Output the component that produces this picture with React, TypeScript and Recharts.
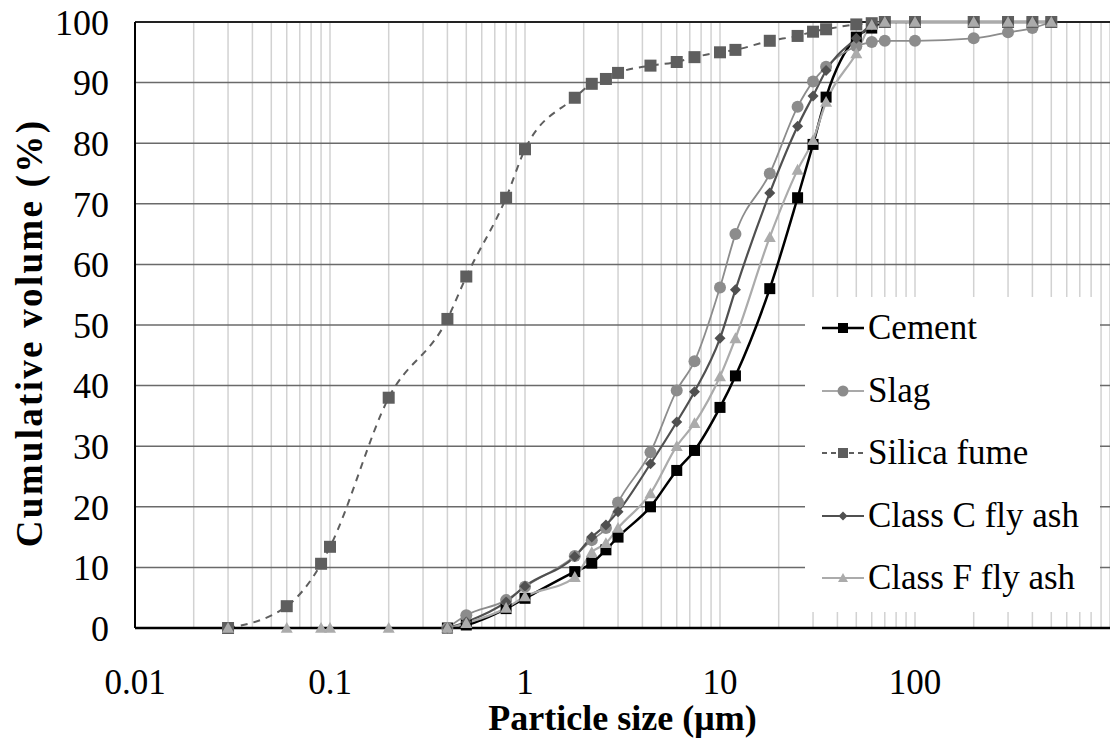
import React from "react";
import {
  LineChart,
  Line,
  XAxis,
  YAxis,
  ReferenceLine,
  Label,
} from "recharts";

// particle sizes (µm) shared by every series
const sizes = [
  0.03, 0.06, 0.09, 0.1, 0.2, 0.4, 0.5, 0.8, 1, 1.8, 2.2, 2.6, 3, 4.4, 6, 7.4,
  10, 12, 18, 25, 30, 35, 50, 60, 70, 100, 200, 300, 400, 500,
];

const cement = [
  null, null, null, null, null, 0, 0.5, 3.2, 4.9, 9.3, 10.7, 12.9, 15, 20, 26,
  29.3, 36.4, 41.6, 56, 71, 79.8, 87.6, 97.5, 99, 100, 100, 100, 100, 100, 100,
];
const slag = [
  null, null, null, null, null, 0, 2.1, 4.6, 6.8, 11.9, 14.5, 16.5, 20.7, 29,
  39.2, 44, 56.2, 65, 75, 86, 90.2, 92.6, 96, 96.7, 96.9, 96.9, 97.3, 98.3, 99,
  100,
];
const silicaFume = [
  0, 3.6, 10.6, 13.4, 38, 51, 58, 71, 79, 87.5, 89.8, 90.6, 91.6, 92.8, 93.4,
  94.2, 95, 95.4, 96.9, 97.7, 98.4, 98.8, 99.6, 99.8, 100, 100, 100, 100, 100,
  100,
];
const classC = [
  null, null, null, null, null, 0, 1, 4.3, 6.9, 11.8, 15, 17, 19.2, 27.1, 34,
  39, 47.8, 55.8, 71.8, 82.8, 87.8, 92, 97.3, 99.5, 100, 100, 100, 100, 100,
  100,
];
const classF = [
  0, 0, 0, 0, 0, 0, 0.8, 3.3, 5.2, 8.4, 12.5, 14, 16.5, 22.2, 30, 33.8, 41.5,
  47.8, 64.5, 75.6, 80.5, 86.8, 94.8, 99.5, 100, 100, 100, 100, 100, 100,
];

const xTicks = [0.01, 0.1, 1, 10, 100];
const yTicks = [0, 10, 20, 30, 40, 50, 60, 70, 80, 90, 100];
const decades = [0.01, 0.1, 1, 10, 100];
const minorGrid: number[] = [];
decades.forEach((d) => {
  for (let m = 1; m <= 9; m++) if (!(d === 0.01 && m === 1)) minorGrid.push(+(d * m).toPrecision(3));
});
minorGrid.push(1000);

const data = sizes.map((s, i) => ({
  size: s,
  cement: cement[i],
  slag: slag[i],
  silica: silicaFume[i],
  classC: classC[i],
  classF: classF[i],
}));

const FONT = "'Liberation Serif', 'Times New Roman', serif";

const C_CEMENT = "#000000";
const C_SLAG = "#8c8c8c";
const C_SILICA = "#5e5e5e";
const C_CLASSC = "#505050";
const C_CLASSF = "#ababab";

type Shape = "square" | "circle" | "diamond" | "triangle";

function Marker({ cx, cy, shape, color, size }: any) {
  if (cx == null || cy == null) return null;
  const h = size / 2;
  if (shape === "square")
    return <rect x={cx - h} y={cy - h} width={size} height={size} fill={color} />;
  if (shape === "circle") return <circle cx={cx} cy={cy} r={h} fill={color} />;
  if (shape === "diamond")
    return (
      <polygon
        points={`${cx},${cy - h} ${cx + h},${cy} ${cx},${cy + h} ${cx - h},${cy}`}
        fill={color}
      />
    );
  return (
    <polygon
      points={`${cx},${cy - h} ${cx + h},${cy + h * 0.8} ${cx - h},${cy + h * 0.8}`}
      fill={color}
    />
  );
}

const dotFn = (shape: Shape, color: string, size: number) => (props: any) => {
  const { cx, cy, index, value } = props;
  if (value == null || (Array.isArray(value) && value[1] == null))
    return <g key={`d-${shape}-${index}`} />;
  return (
    <g key={`d-${shape}-${index}`}>
      <Marker cx={cx} cy={cy} shape={shape} color={color} size={size} />
    </g>
  );
};

const legendItems = [
  { name: "Cement", color: C_CEMENT, shape: "square" as Shape, dash: undefined, w: 2.5, size: 10 },
  { name: "Slag", color: C_SLAG, shape: "circle" as Shape, dash: undefined, w: 1.5, size: 11 },
  { name: "Silica fume", color: C_SILICA, shape: "square" as Shape, dash: "5 4", w: 2, size: 10 },
  { name: "Class C fly ash", color: C_CLASSC, shape: "diamond" as Shape, dash: undefined, w: 2, size: 9 },
  { name: "Class F fly ash", color: C_CLASSF, shape: "triangle" as Shape, dash: undefined, w: 2, size: 10 },
];

export default function App() {
  return (
    <div style={{ position: "absolute", left: 0, top: 0, width: 1110, height: 742, background: "#fff" }}>
      <LineChart
        width={1110}
        height={742}
        data={data}
        margin={{ top: 22, right: 0, left: 0, bottom: 0 }}
      >
        {minorGrid.map((v) => (
          <ReferenceLine key={`v${v}`} x={v} stroke="#d2d2d2" strokeWidth={1.5} />
        ))}
        {yTicks.slice(1, 10).map((v) => (
          <ReferenceLine key={`h${v}`} y={v} stroke="#6a6a6a" strokeWidth={1.5} />
        ))}
        <ReferenceLine y={100} stroke="#222" strokeWidth={2} />
        <XAxis
          type="number"
          dataKey="size"
          scale="log"
          domain={[0.01, 1000]}
          ticks={xTicks}
          allowDataOverflow
          height={114}
          tickLine={false}
          tickSize={6}
          tickMargin={35}
          axisLine={{ stroke: "#000", strokeWidth: 2.5 }}
          tick={{ fill: "#000", fontSize: 35, fontFamily: FONT }}
          tickFormatter={(v: number) => String(v)}
        >
          <Label
            content={({ viewBox }: any) => (
              <text
                x={viewBox.x + viewBox.width / 2}
                y={730}
                textAnchor="middle"
                fontFamily={FONT}
                fontWeight="bold"
                fontSize={36}
                fill="#000"
              >
                Particle size (μm)
              </text>
            )}
          />
        </XAxis>
        <YAxis
          type="number"
          domain={[0, 100]}
          ticks={yTicks}
          width={135}
          tickLine={false}
          tickSize={6}
          tickMargin={20}
          axisLine={{ stroke: "#000", strokeWidth: 2 }}
          tick={{ fill: "#000", fontSize: 36, fontFamily: FONT }}
        >
          <Label
            content={({ viewBox }: any) => {
              const cy = viewBox.y + viewBox.height / 2 + 8;
              return (
                <text
                  x={29}
                  y={cy}
                  transform={`rotate(-90 29 ${cy})`}
                  textAnchor="middle"
                  dominantBaseline="central"
                  fontFamily={FONT}
                  fontWeight="bold"
                  fontSize={37}
                  letterSpacing={2.3}
                  fill="#000"
                >
                  Cumulative volume (%)
                </text>
              );
            }}
          />
        </YAxis>
        <Line
          dataKey="cement"
          type="monotoneX"
          stroke={C_CEMENT}
          strokeWidth={2.5}
          dot={dotFn("square", C_CEMENT, 11)}
          isAnimationActive={false}
        />
        <Line
          dataKey="slag"
          type="monotoneX"
          stroke={C_SLAG}
          strokeWidth={1.8}
          dot={dotFn("circle", C_SLAG, 12)}
          isAnimationActive={false}
        />
        <Line
          dataKey="silica"
          type="monotoneX"
          stroke={C_SILICA}
          strokeWidth={2}
          strokeDasharray="7 6"
          dot={dotFn("square", C_SILICA, 12)}
          isAnimationActive={false}
        />
        <Line
          dataKey="classC"
          type="monotoneX"
          stroke={C_CLASSC}
          strokeWidth={2.2}
          dot={dotFn("diamond", C_CLASSC, 11)}
          isAnimationActive={false}
        />
        <Line
          dataKey="classF"
          type="monotoneX"
          stroke={C_CLASSF}
          strokeWidth={2.2}
          dot={dotFn("triangle", C_CLASSF, 12)}
          isAnimationActive={false}
        />
      </LineChart>
      <div
        style={{
          position: "absolute",
          left: 805,
          top: 297,
          width: 295,
          height: 315,
          background: "#fff",
          boxSizing: "border-box",
          paddingTop: 0,
        }}
      >
        {legendItems.map((it) => (
          <div
            key={it.name}
            style={{ display: "flex", alignItems: "center", height: 62.5, fontFamily: FONT, fontSize: 35, color: "#000", whiteSpace: "nowrap" }}
          >
            <svg width={44} height={20} style={{ marginLeft: 16, marginRight: 3, flexShrink: 0 }}>
              <line x1={1} y1={10} x2={43} y2={10} stroke={it.color} strokeWidth={it.w} strokeDasharray={it.dash} />
              <Marker cx={22} cy={10} shape={it.shape} color={it.color} size={it.size} />
            </svg>
            <span>{it.name}</span>
          </div>
        ))}
      </div>
    </div>
  );
}
